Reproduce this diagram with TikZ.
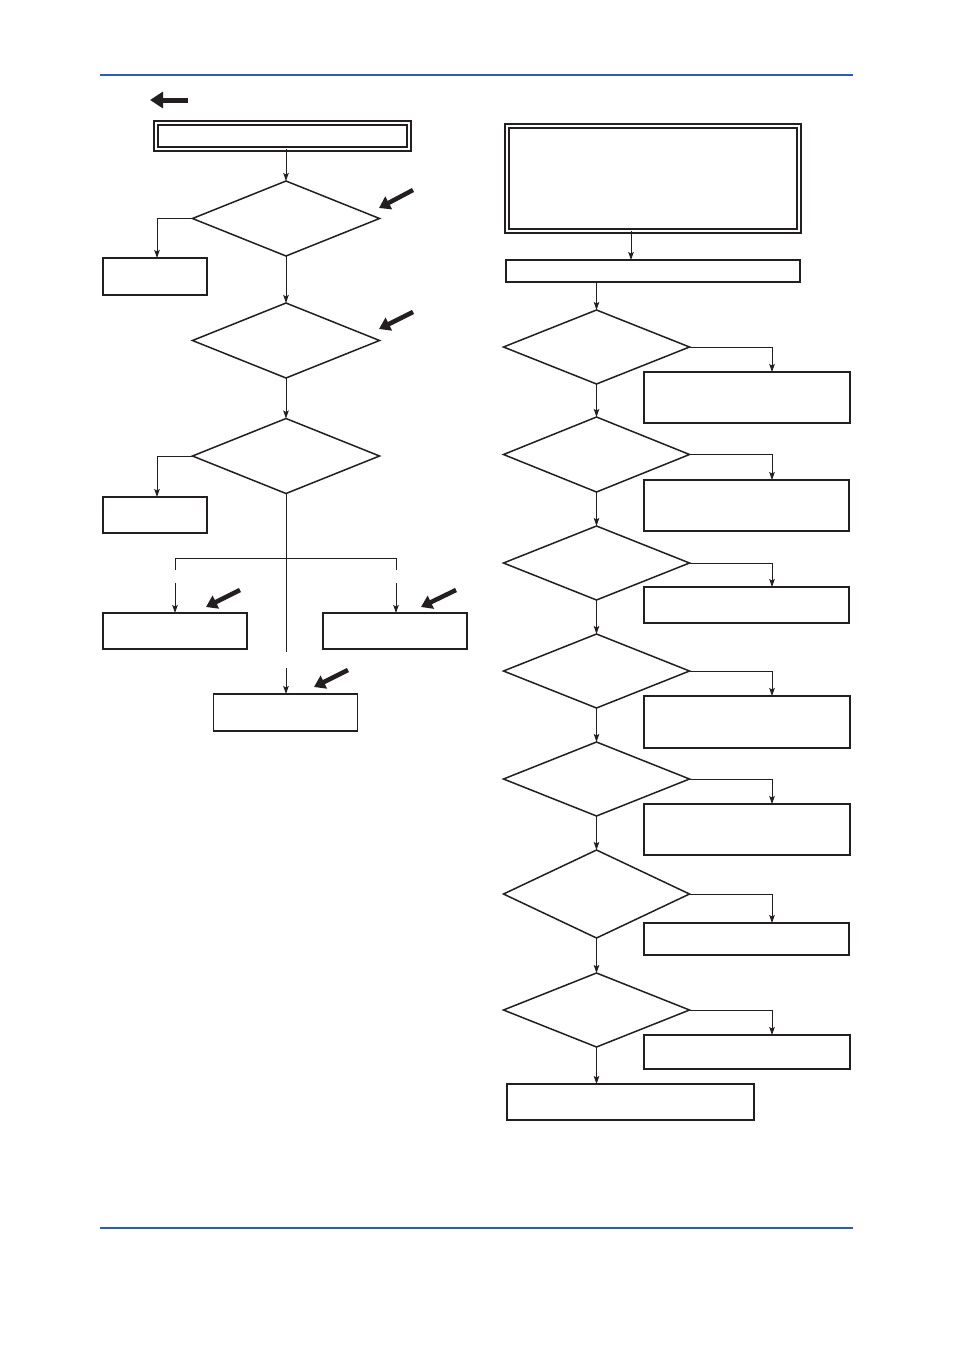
\documentclass[tikz,border=0pt]{standalone}
\usetikzlibrary{shapes.geometric,arrows.meta}
\definecolor{ink}{HTML}{231F20}
\definecolor{rule}{HTML}{2A5DB8}
\begin{document}
\begin{tikzpicture}[x=1pt,y=-1pt,
  box/.style={draw=ink,line width=1.5pt,rectangle,inner sep=0pt,outer sep=0pt},
  thinbox/.style={box,line width=1.1pt},
  dbox/.style={draw=ink,line width=1.8pt,double=white,double distance=1.8pt,rectangle,inner sep=0pt,outer sep=0pt},
  dia/.style={draw=ink,line width=1.5pt,diamond,inner sep=0pt,outer sep=0pt,minimum width=187pt,minimum height=75pt},
  conn/.style={draw=ink,line width=0.9pt,-{Stealth[length=8pt,width=5.5pt,inset=1.5pt]}},
  plain/.style={draw=ink,line width=0.9pt},
  bigarrow/.style={draw=ink,line width=4.5pt,-{Triangle[length=11pt,width=14pt]}},
  rulel/.style={draw=rule,line width=2.6pt}]
\useasboundingbox (0,0) rectangle (954,1350);
\fill[white] (0,0) rectangle (954,1350);
% rules
\coordinate (rl1) at (100,75); \coordinate (rr1) at (853,75);
\coordinate (rl2) at (100,1228); \coordinate (rr2) at (853,1228);
\draw[rulel] (rl1) -- (rr1);
\draw[rulel,line width=2pt] (rl2) -- (rr2);
% ---------- left column ----------
\node[dbox,minimum width=253pt,minimum height=26pt] (T1) at (282.5,136) {};
\node[dia] (D1) at (286,218.5) {};
\node[box,minimum width=104pt,minimum height=37pt] (B1) at (155,276.5) {};
\node[dia] (D2) at (286,340.5) {};
\node[dia] (D3) at (286,456) {};
\node[box,minimum width=104pt,minimum height=36pt] (B2) at (155,515) {};
\node[box,minimum width=144pt,minimum height=36pt] (B3) at (175,631) {};
\node[box,minimum width=144pt,minimum height=36pt] (B4) at (395,631) {};
\node[box,minimum width=144pt,minimum height=37pt] (B5) at (285.5,712.5) {};

\coordinate (xl) at (157,0);
\draw[conn] (D1.north |- T1.south) -- (D1.north);
\draw[conn] (D1.west) -| (xl |- B1.north);
\draw[conn] (D1.south) -- (D2.north);
\draw[conn] (D2.south) -- (D3.north);
\draw[conn] (D3.west) -| (xl |- B2.north);
\coordinate (c1) at (286,652);
\coordinate (c2) at (286,668);
\draw[plain] (D3.south) -- (c1);
\draw[conn] (c2) -- (c2 |- B5.north);
\coordinate (j1) at (175,570); \coordinate (j2) at (396,570);
\coordinate (j1b) at (175,583); \coordinate (j2b) at (396,583);
\draw[plain] (j1) -- (175,558) -- (396,558) -- (j2);
\draw[conn] (j1b) -- (B3.north);
\draw[conn] (j2b) -- (j2b |- B4.north);

% big pointer arrows
\coordinate (p0a) at (188,100); \coordinate (p0b) at (150,100);
\coordinate (p1a) at (413,190); \coordinate (p1b) at (379,208);
\coordinate (p2a) at (413,312); \coordinate (p2b) at (379,329);
\coordinate (p3a) at (240,590); \coordinate (p3b) at (206,607);
\coordinate (p4a) at (456,590); \coordinate (p4b) at (421,607);
\coordinate (p5a) at (348,670); \coordinate (p5b) at (314,687);
\draw[bigarrow,line width=5pt,-{Triangle[length=13pt,width=16pt]}] (p0a) -- (p0b);
\foreach \i in {1,...,5} { \draw[bigarrow] (p\i a) -- (p\i b); }

% ---------- right column ----------
\node[dbox,minimum width=292pt,minimum height=105pt] (T2) at (653,178.5) {};
\node[thinbox,minimum width=294pt,minimum height=22pt] (R0) at (653,271) {};
\node[dia,minimum width=186pt,minimum height=74pt] (RD1) at (596.5,347) {};
\node[dia,minimum width=186pt,minimum height=75pt] (RD2) at (596.5,454.5) {};
\node[dia,minimum width=186pt,minimum height=74pt] (RD3) at (596.5,563) {};
\node[dia,minimum width=186pt,minimum height=74pt] (RD4) at (596.5,671) {};
\node[dia,minimum width=186pt,minimum height=74pt] (RD5) at (596.5,779) {};
\node[dia,minimum width=186pt,minimum height=88pt] (RD6) at (596.5,894) {};
\node[dia,minimum width=186pt,minimum height=74pt] (RD7) at (596.5,1010) {};

\node[box,minimum width=206pt,minimum height=51pt] (RB1) at (747,397.5) {};
\node[thinbox,minimum width=205pt,minimum height=51pt] (RB2) at (746.5,505.5) {};
\node[thinbox,minimum width=205pt,minimum height=36pt] (RB3) at (746.5,605) {};
\node[box,minimum width=206pt,minimum height=52pt] (RB4) at (747,722) {};
\node[box,minimum width=206pt,minimum height=51pt] (RB5) at (747,829.5) {};
\node[box,minimum width=205pt,minimum height=32pt] (RB6) at (746.5,939) {};
\node[box,minimum width=206pt,minimum height=34pt] (RB7) at (747,1052) {};
\node[box,minimum width=247pt,minimum height=36pt] (RF) at (630.5,1102) {};

\coordinate (xa) at (631,0);
\coordinate (xr) at (772,0);
\draw[conn] (xa |- T2.south) -- (xa |- R0.north);
\draw[conn] (RD1.north |- R0.south) -- (RD1.north);
\draw[conn] (RD1.south) -- (RD2.north);
\draw[conn] (RD2.south) -- (RD3.north);
\draw[conn] (RD3.south) -- (RD4.north);
\draw[conn] (RD4.south) -- (RD5.north);
\draw[conn] (RD5.south) -- (RD6.north);
\draw[conn] (RD6.south) -- (RD7.north);
\draw[conn] (RD7.south) -- (RD7.south |- RF.north);
\draw[conn] (RD1.east) -| (xr |- RB1.north);
\draw[conn] (RD2.east) -| (xr |- RB2.north);
\draw[conn] (RD3.east) -| (xr |- RB3.north);
\draw[conn] (RD4.east) -| (xr |- RB4.north);
\draw[conn] (RD5.east) -| (xr |- RB5.north);
\draw[conn] (RD6.east) -| (xr |- RB6.north);
\draw[conn] (RD7.east) -| (xr |- RB7.north);
\end{tikzpicture}
\end{document}
